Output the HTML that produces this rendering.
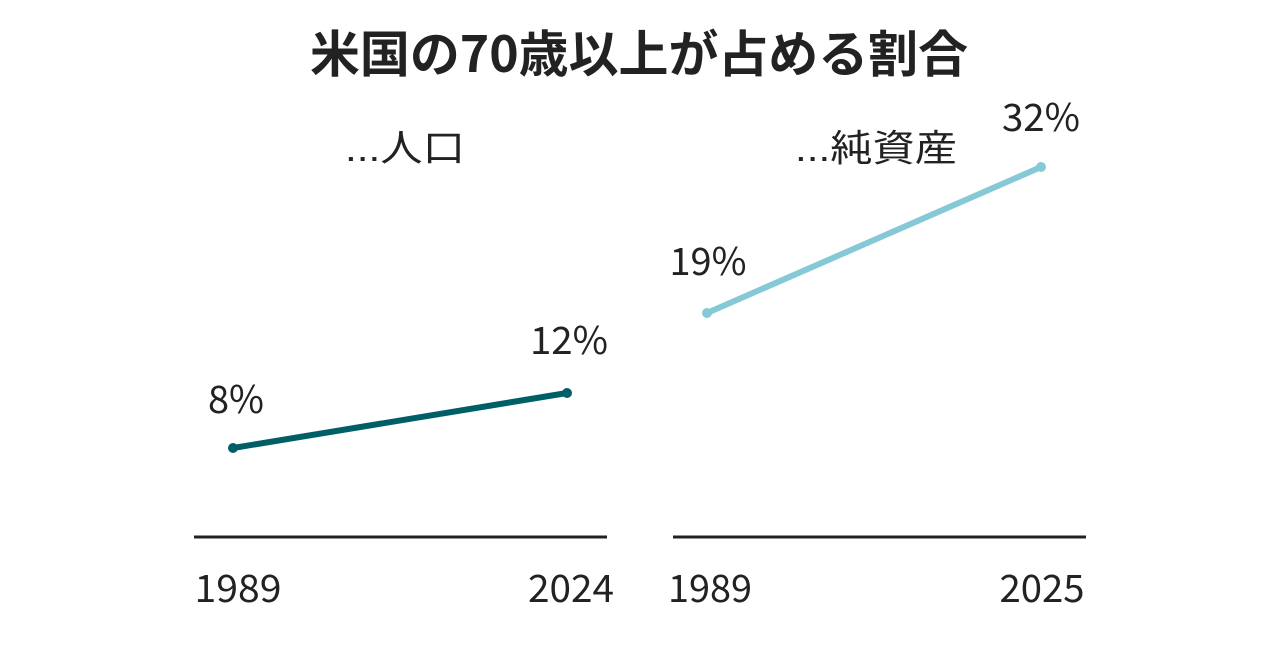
<!DOCTYPE html>
<html><head><meta charset="utf-8"><style>
html,body{margin:0;padding:0;background:#fff;}
body{width:1280px;height:640px;overflow:hidden;}
svg text{font-family:"Noto Sans CJK JP","Liberation Sans",sans-serif;fill:#222;}
</style></head><body>
<svg width="1280" height="640" viewBox="0 0 1280 640">
<text x="639" y="72" text-anchor="middle" font-size="50" font-weight="bold" textLength="658" lengthAdjust="spacingAndGlyphs">米国の70歳以上が占める割合</text>
<text x="405" y="161" text-anchor="middle" font-size="37" textLength="120" lengthAdjust="spacingAndGlyphs"><tspan font-family="Liberation Sans">...</tspan>人口</text>
<text x="876" y="161" text-anchor="middle" font-size="37" textLength="162" lengthAdjust="spacingAndGlyphs"><tspan font-family="Liberation Sans">...</tspan>純資産</text>
<line x1="194" y1="537" x2="607" y2="537" stroke="#222" stroke-width="3"/>
<line x1="673" y1="537" x2="1086" y2="537" stroke="#222" stroke-width="3"/>
<text x="238" y="602" text-anchor="middle" font-size="38" textLength="87" lengthAdjust="spacingAndGlyphs">1989</text>
<text x="571" y="602" text-anchor="middle" font-size="38" textLength="86" lengthAdjust="spacingAndGlyphs">2024</text>
<text x="710" y="602" text-anchor="middle" font-size="38" textLength="84" lengthAdjust="spacingAndGlyphs">1989</text>
<text x="1042" y="602" text-anchor="middle" font-size="38" textLength="85" lengthAdjust="spacingAndGlyphs">2025</text>
<line x1="233" y1="448" x2="567" y2="393" stroke="#005f66" stroke-width="6"/>
<circle cx="233" cy="448" r="5" fill="#005f66"/><circle cx="567" cy="393" r="5" fill="#005f66"/>
<line x1="707" y1="313" x2="1041" y2="167" stroke="#86c9d6" stroke-width="6"/>
<circle cx="707" cy="313" r="5" fill="#86c9d6"/><circle cx="1041" cy="167" r="5" fill="#86c9d6"/>
<text x="236" y="413" text-anchor="middle" font-size="38" textLength="56" lengthAdjust="spacingAndGlyphs">8%</text>
<text x="569" y="354" text-anchor="middle" font-size="38" textLength="78" lengthAdjust="spacingAndGlyphs">12%</text>
<text x="708" y="275" text-anchor="middle" font-size="38" textLength="77" lengthAdjust="spacingAndGlyphs">19%</text>
<text x="1041" y="131" text-anchor="middle" font-size="38" textLength="78" lengthAdjust="spacingAndGlyphs">32%</text>
</svg>
</body></html>
